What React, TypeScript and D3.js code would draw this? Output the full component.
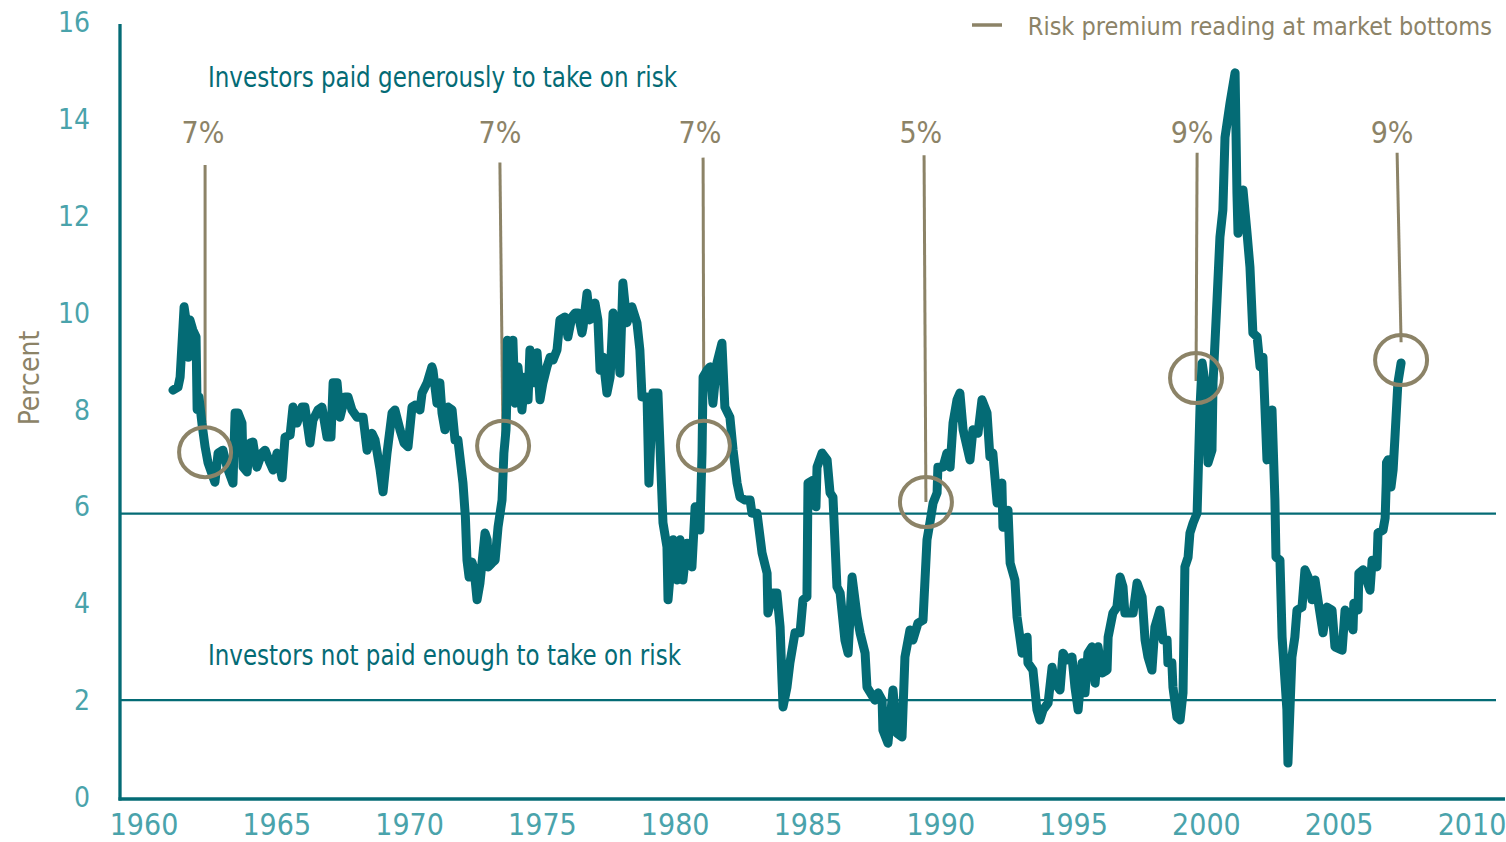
import React from "react"
import * as d3 from "d3"

// monthly-ish risk premium readings (year, percent)
const riskPremium: [number, number][] = [
  [1961.09, 8.4], [1961.28, 8.46], [1961.36, 8.67], [1961.51, 10.12], [1961.62, 9.7], [1961.66, 9.08],
  [1961.73, 9.85], [1961.84, 9.64], [1961.96, 9.5], [1962.0, 8.0], [1962.07, 8.26], [1962.18, 7.72],
  [1962.3, 7.23], [1962.41, 6.9], [1962.67, 6.5], [1962.79, 7.1], [1962.97, 7.16], [1963.13, 6.81],
  [1963.35, 6.48], [1963.43, 7.93], [1963.54, 7.93], [1963.69, 7.72], [1963.73, 6.81], [1963.88, 6.71],
  [1963.99, 7.31], [1964.1, 7.33], [1964.25, 6.81], [1964.44, 7.1], [1964.56, 7.16], [1964.74, 6.9],
  [1964.86, 6.75], [1965.01, 7.1], [1965.2, 6.59], [1965.31, 7.43], [1965.5, 7.47], [1965.61, 8.05],
  [1965.76, 7.72], [1965.95, 8.05], [1966.06, 8.05], [1966.25, 7.31], [1966.36, 7.78], [1966.55, 7.99],
  [1966.7, 8.05], [1966.89, 7.43], [1967.04, 7.43], [1967.12, 8.55], [1967.27, 8.55], [1967.38, 7.84],
  [1967.57, 8.26], [1967.68, 8.26], [1967.83, 7.99], [1968.02, 7.84], [1968.25, 7.84], [1968.4, 7.16],
  [1968.58, 7.51], [1968.7, 7.37], [1968.89, 6.75], [1969.0, 6.3], [1969.15, 7.1], [1969.34, 7.93],
  [1969.45, 7.99], [1969.64, 7.58], [1969.79, 7.31], [1969.94, 7.23], [1970.09, 8.05], [1970.2, 8.09],
  [1970.39, 7.99], [1970.47, 8.34], [1970.66, 8.55], [1970.84, 8.88], [1970.88, 8.81], [1971.03, 8.13],
  [1971.14, 8.55], [1971.22, 7.93], [1971.33, 7.58], [1971.45, 8.05], [1971.6, 7.99], [1971.71, 7.37],
  [1971.82, 7.37], [1972.01, 6.48], [1972.1, 5.78], [1972.16, 4.89], [1972.24, 4.54], [1972.35, 4.85],
  [1972.43, 4.69], [1972.54, 4.07], [1972.65, 4.42], [1972.84, 5.45], [1972.92, 5.31], [1972.96, 4.75],
  [1973.1, 4.83], [1973.22, 4.89], [1973.33, 5.57], [1973.48, 6.13], [1973.55, 7.1], [1973.63, 7.58],
  [1973.66, 8.2], [1973.68, 9.43], [1973.78, 8.67], [1973.89, 9.43], [1973.97, 8.13], [1974.08, 8.88],
  [1974.23, 7.99], [1974.35, 8.67], [1974.46, 8.2], [1974.53, 9.23], [1974.65, 8.55], [1974.8, 9.17],
  [1974.91, 8.2], [1975.02, 8.55], [1975.17, 8.88], [1975.29, 9.08], [1975.4, 9.02], [1975.55, 9.23],
  [1975.66, 9.85], [1975.85, 9.91], [1975.96, 9.5], [1976.11, 9.91], [1976.23, 9.99], [1976.34, 9.99],
  [1976.49, 9.58], [1976.53, 9.7], [1976.68, 10.4], [1976.79, 9.85], [1976.98, 10.2], [1977.09, 9.85],
  [1977.17, 8.81], [1977.28, 9.08], [1977.43, 8.34], [1977.55, 8.67], [1977.66, 9.99], [1977.81, 9.5],
  [1977.92, 8.75], [1978.03, 10.61], [1978.18, 9.79], [1978.37, 10.12], [1978.56, 9.79], [1978.67, 9.23],
  [1978.75, 8.26], [1978.94, 8.26], [1979.01, 6.48], [1979.16, 8.34], [1979.35, 8.34], [1979.54, 5.66],
  [1979.69, 5.16], [1979.73, 4.07], [1979.92, 5.31], [1980.07, 4.48], [1980.18, 5.31], [1980.29, 4.48],
  [1980.44, 5.24], [1980.63, 4.75], [1980.75, 5.99], [1980.93, 5.51], [1981.01, 7.1], [1981.05, 8.67],
  [1981.2, 8.81], [1981.31, 8.88], [1981.42, 8.13], [1981.57, 8.96], [1981.76, 9.37], [1981.87, 8.05],
  [1982.06, 7.84], [1982.18, 7.16], [1982.33, 6.48], [1982.44, 6.19], [1982.63, 6.13], [1982.82, 6.13],
  [1982.89, 5.86], [1983.08, 5.86], [1983.27, 5.04], [1983.46, 4.62], [1983.49, 3.8], [1983.68, 4.21],
  [1983.83, 4.21], [1983.95, 3.51], [1984.02, 2.42], [1984.06, 1.86], [1984.21, 2.27], [1984.32, 2.77],
  [1984.51, 3.39], [1984.7, 3.39], [1984.81, 4.07], [1984.96, 4.13], [1985.0, 6.48], [1985.19, 6.54],
  [1985.3, 5.99], [1985.34, 6.81], [1985.53, 7.1], [1985.72, 6.96], [1985.83, 6.28], [1985.94, 6.19],
  [1986.09, 4.34], [1986.21, 4.21], [1986.39, 3.24], [1986.51, 2.97], [1986.66, 4.54], [1986.85, 3.72],
  [1986.96, 3.39], [1987.15, 2.97], [1987.22, 2.27], [1987.52, 2.0], [1987.64, 2.15], [1987.79, 2.0],
  [1987.82, 1.38], [1988.01, 1.11], [1988.2, 2.21], [1988.35, 1.32], [1988.54, 1.24], [1988.65, 2.89],
  [1988.84, 3.45], [1988.95, 3.24], [1989.14, 3.59], [1989.33, 3.65], [1989.48, 5.31], [1989.59, 5.66],
  [1989.71, 6.07], [1989.86, 6.28], [1989.89, 6.81], [1990.08, 6.81], [1990.23, 7.1], [1990.35, 6.81],
  [1990.46, 7.72], [1990.61, 8.2], [1990.72, 8.34], [1990.84, 7.58], [1991.1, 6.96], [1991.21, 7.58],
  [1991.4, 7.51], [1991.55, 8.2], [1991.74, 7.93], [1991.85, 7.02], [1991.96, 7.1], [1992.12, 6.07],
  [1992.3, 6.48], [1992.34, 5.57], [1992.53, 5.92], [1992.61, 4.83], [1992.79, 4.48], [1992.87, 3.72],
  [1993.06, 2.97], [1993.25, 3.3], [1993.28, 2.77], [1993.47, 2.62], [1993.62, 1.8], [1993.73, 1.59],
  [1993.85, 1.8], [1994.04, 1.94], [1994.19, 2.68], [1994.3, 2.35], [1994.49, 2.21], [1994.6, 2.97],
  [1994.75, 2.83], [1994.94, 2.89], [1995.05, 2.27], [1995.17, 1.8], [1995.32, 2.77], [1995.43, 2.15],
  [1995.54, 2.97], [1995.69, 3.1], [1995.81, 2.35], [1995.92, 3.1], [1996.07, 2.56], [1996.26, 2.62],
  [1996.3, 3.3], [1996.48, 3.8], [1996.63, 3.92], [1996.75, 4.54], [1996.86, 4.34], [1996.93, 3.8],
  [1997.12, 3.8], [1997.24, 3.8], [1997.39, 4.42], [1997.58, 4.13], [1997.69, 3.24], [1997.8, 2.89],
  [1997.95, 2.62], [1998.06, 3.51], [1998.25, 3.86], [1998.37, 3.24], [1998.52, 3.24], [1998.55, 2.77],
  [1998.7, 2.77], [1998.74, 2.27], [1998.89, 1.65], [1999.01, 1.59], [1999.12, 2.15], [1999.19, 4.75],
  [1999.31, 4.95], [1999.38, 5.45], [1999.5, 5.66], [1999.65, 5.86], [1999.76, 8.05], [1999.84, 8.96],
  [1999.95, 8.55], [2000.06, 6.9], [2000.21, 7.16], [2000.25, 8.55], [2000.4, 10.26], [2000.51, 11.56],
  [2000.62, 12.12], [2000.7, 13.62], [2000.89, 14.33], [2001.08, 14.95], [2001.15, 12.47], [2001.19, 11.64],
  [2001.38, 12.53], [2001.53, 11.64], [2001.64, 10.94], [2001.75, 9.58], [2001.91, 9.5], [2002.02, 8.88],
  [2002.13, 9.08], [2002.28, 6.96], [2002.47, 7.99], [2002.58, 6.13], [2002.62, 4.95], [2002.77, 4.89],
  [2002.85, 3.3], [2003.03, 1.8], [2003.07, 0.7], [2003.22, 2.89], [2003.33, 3.3], [2003.41, 3.86],
  [2003.6, 3.92], [2003.71, 4.69], [2003.83, 4.54], [2003.98, 4.07], [2004.09, 4.48], [2004.2, 4.07],
  [2004.39, 3.39], [2004.54, 3.92], [2004.73, 3.86], [2004.84, 3.1], [2005.11, 3.03], [2005.22, 3.86],
  [2005.33, 3.72], [2005.52, 3.45], [2005.55, 4.0], [2005.71, 3.86], [2005.74, 4.62], [2005.9, 4.69],
  [2006.16, 4.27], [2006.24, 4.89], [2006.42, 4.75], [2006.46, 5.45], [2006.65, 5.51], [2006.73, 5.76],
  [2006.77, 6.48], [2006.78, 6.9], [2006.84, 6.96], [2006.95, 6.4], [2007.03, 6.75], [2007.1, 7.43],
  [2007.21, 8.55], [2007.33, 8.96],
]

// market bottom call-outs
const bottomLabels = ["7%", "7%", "7%", "5%", "9%", "9%"]
const labelYears = [1962.22, 1973.4, 1980.93, 1989.25, 1999.46, 2006.99]
const leaderTopYears = [1962.3, 1973.4, 1981.05, 1989.37, 1999.65, 2007.18]
const leaderTopValues = [13.05, 13.1, 13.2, 13.25, 13.3, 13.3]
const leaderEndValues = [7.16, 7.16, 7.27, 6.09, 8.59, 9.39]
const circleYears = [1962.3, 1973.52, 1981.08, 1989.44, 1999.61, 2007.33]
const circleValues = [7.12, 7.25, 7.25, 6.09, 8.65, 9.02]

const yTicks = [0, 2, 4, 6, 8, 10, 12, 14, 16]
const xTicks = [1960, 1965, 1970, 1975, 1980, 1985, 1990, 1995, 2000, 2005, 2010]
const bands = [5.85, 2]

const W = 1506
const H = 842
const TEAL = "#046b75"
const TICK = "#4aa3ab"
const TAN = "#8c8367"
const FONT = "'Liberation Sans Narrow', 'DejaVu Sans Condensed', 'Arial Narrow', sans-serif"

export default function App() {
  const x = d3.scaleLinear().domain([1960, 2010]).range([144, 1472])
  const y = d3.scaleLinear().domain([0, 16]).range([797, 22])
  const axisX = 120
  const axisY = 799

  const line = d3
    .line<[number, number]>()
    .x((d) => x(d[0]))
    .y((d) => y(d[1]))

  return (
    <svg width={W} height={H} style={{ position: "absolute", left: 0, top: 0 }} fontFamily={FONT}>
      <rect width={W} height={H} fill="#fff" />

      {/* threshold lines */}
      {bands.map((b) => (
        <line key={b} x1={axisX} x2={1496} y1={y(b)} y2={y(b)} stroke={TEAL} strokeWidth={2.2} />
      ))}

      {/* axes */}
      <line x1={axisX} x2={axisX} y1={24} y2={axisY + 1.5} stroke={TEAL} strokeWidth={3.3} />
      <line x1={axisX - 1.5} x2={1505} y1={axisY} y2={axisY} stroke={TEAL} strokeWidth={3.3} />

      {yTicks.map((t) => (
        <text key={t} x={90} y={y(t)} dy="0.36em" textAnchor="end" fontSize={28} fill={TICK}>
          {t}
        </text>
      ))}
      {xTicks.map((t) => (
        <text key={t} x={x(t)} y={835} textAnchor="middle" fontSize={30} fill={TICK}>
          {t}
        </text>
      ))}

      <text
        transform={`translate(39,${y(8.65)}) rotate(-90)`}
        textAnchor="middle"
        fontSize={28}
        fill={TAN}
      >
        Percent
      </text>

      {/* zone captions */}
      <text x={208} y={87} fontSize={29} fill={TEAL} textLength={469} lengthAdjust="spacingAndGlyphs">
        Investors paid generously to take on risk
      </text>
      <text x={208} y={665} fontSize={29} fill={TEAL} textLength={473} lengthAdjust="spacingAndGlyphs">
        Investors not paid enough to take on risk
      </text>

      {/* legend */}
      <line x1={972} x2={1002} y1={25} y2={25} stroke={TAN} strokeWidth={3.5} />
      <text x={1492} y={35} textAnchor="end" fontSize={25} fill={TAN}>
        Risk premium reading at market bottoms
      </text>

      {/* leader lines */}
      {bottomLabels.map((lab, i) => (
        <g key={i}>
          <line
            x1={x(leaderTopYears[i])}
            y1={y(leaderTopValues[i])}
            x2={x(circleYears[i])}
            y2={y(leaderEndValues[i])}
            stroke={TAN}
            strokeWidth={3}
          />
          <text x={x(labelYears[i])} y={143} textAnchor="middle" fontSize={30} fill={TAN}>
            {lab}
          </text>
        </g>
      ))}

      {/* series */}
      <path
        d={line(riskPremium) ?? ""}
        fill="none"
        stroke={TEAL}
        strokeWidth={9}
        strokeLinejoin="round"
        strokeLinecap="round"
      />

      {/* circles */}
      {circleYears.map((cy, i) => (
        <ellipse
          key={i}
          cx={x(cy)}
          cy={y(circleValues[i])}
          rx={26}
          ry={25}
          fill="none"
          stroke={TAN}
          strokeWidth={4}
        />
      ))}
    </svg>
  )
}
